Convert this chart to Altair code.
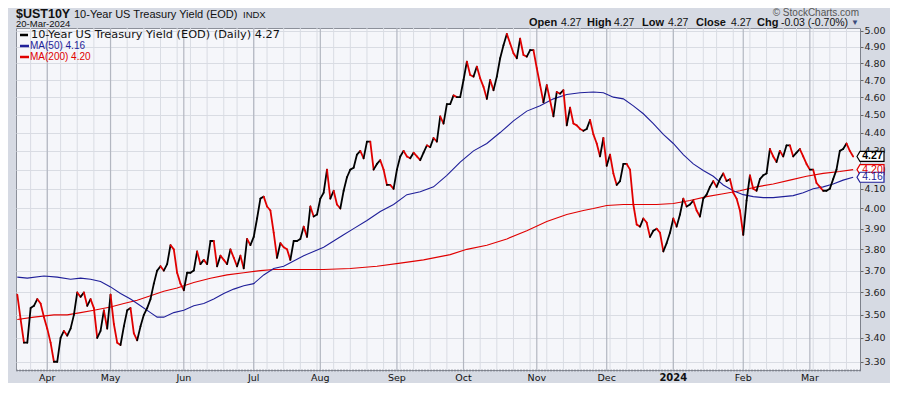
import altair as alt
import pandas as pd

# ---------------- data ----------------
first_day = "2023-03-21"
last_day = "2024-03-20"
holidays = ["2023-04-07", "2023-05-29", "2023-06-19", "2023-07-04", "2023-09-04",
            "2023-11-23", "2023-12-25", "2024-01-01", "2024-01-15", "2024-02-19"]

close = [
    3.59, 3.48, 3.38, 3.38, 3.53, 3.54, 3.57, 3.55, 3.49, 3.44,
    3.38, 3.30, 3.30, 3.40, 3.43, 3.41, 3.44, 3.50, 3.60, 3.58,
    3.60, 3.54, 3.57, 3.53, 3.40, 3.43, 3.52, 3.44, 3.59, 3.46,
    3.38, 3.37, 3.45, 3.52, 3.53, 3.42, 3.39, 3.45, 3.50, 3.53,
    3.57, 3.64, 3.70, 3.72, 3.70, 3.73, 3.82, 3.80, 3.69, 3.64,
    3.61, 3.69, 3.69, 3.70, 3.79, 3.73, 3.75, 3.73, 3.84, 3.84,
    3.72, 3.77, 3.75, 3.73, 3.80, 3.76, 3.72, 3.77, 3.71, 3.85,
    3.82, 3.86, 3.95, 4.05, 4.06, 4.01, 3.99, 3.88, 3.76, 3.83,
    3.81, 3.80, 3.75, 3.84, 3.84, 3.85, 3.91, 3.86, 4.01, 3.96,
    3.97, 4.05, 4.08, 4.20, 4.05, 4.09, 4.02, 4.00, 4.09, 4.16,
    4.20, 4.21, 4.28, 4.30, 4.26, 4.35, 4.35, 4.20, 4.23, 4.25,
    4.20, 4.12, 4.12, 4.10, 4.20, 4.27, 4.30, 4.27, 4.26, 4.29,
    4.27, 4.25, 4.29, 4.33, 4.32, 4.37, 4.35, 4.49, 4.45, 4.56,
    4.56, 4.61, 4.60, 4.60, 4.70, 4.81, 4.73, 4.72, 4.78, 4.71,
    4.66, 4.59, 4.70, 4.64, 4.72, 4.83, 4.91, 4.98, 4.92, 4.86,
    4.83, 4.95, 4.85, 4.84, 4.88, 4.88, 4.77, 4.67, 4.57, 4.67,
    4.58, 4.49, 4.63, 4.62, 4.64, 4.44, 4.54, 4.45, 4.44, 4.42,
    4.41, 4.42, 4.47, 4.39, 4.34, 4.27, 4.37, 4.22, 4.28, 4.18,
    4.12, 4.14, 4.23, 4.23, 4.20, 4.02, 3.92, 3.91, 3.95, 3.93,
    3.86, 3.89, 3.90, 3.88, 3.79, 3.83, 3.88, 3.95, 3.91, 3.97,
    4.05, 4.01, 4.02, 4.04, 3.99, 3.96, 4.05, 4.07, 4.11, 4.14,
    4.11, 4.15, 4.18, 4.14, 4.15, 4.08, 4.05, 3.99, 3.87, 4.04,
    4.17, 4.10, 4.09, 4.15, 4.17, 4.18, 4.31, 4.27, 4.24, 4.30,
    4.27, 4.33, 4.33, 4.27, 4.29, 4.31, 4.27, 4.23, 4.20, 4.20,
    4.13, 4.11, 4.09, 4.09, 4.10, 4.15, 4.20, 4.30, 4.31, 4.34,
    4.30, 4.27,
]

ma50_day = [0, 3, 8, 12, 16, 19, 22, 25, 28, 31, 34, 37, 40, 42, 44, 47, 50, 53, 56, 59,
            62, 65, 68, 71, 74, 77, 80, 83, 86, 89, 92, 95, 98, 101, 105, 109, 113, 117,
            121, 125, 129, 133, 137, 141, 145, 149, 153, 157, 161, 165, 169, 173, 176,
            179, 182, 185, 188, 191, 194, 197, 200, 203, 206, 209, 212, 215, 218, 221,
            224, 227, 230, 233, 236, 239, 242, 245, 248, 251]
ma50_val = [3.67, 3.665, 3.675, 3.67, 3.66, 3.665, 3.66, 3.65, 3.625, 3.595, 3.57, 3.54,
            3.51, 3.49, 3.49, 3.51, 3.52, 3.54, 3.55, 3.57, 3.595, 3.615, 3.63, 3.64, 3.68,
            3.71, 3.72, 3.745, 3.77, 3.79, 3.81, 3.84, 3.87, 3.90, 3.94, 3.985, 4.02, 4.07,
            4.085, 4.11, 4.17, 4.24, 4.30, 4.34, 4.40, 4.465, 4.52, 4.55, 4.59, 4.615, 4.625,
            4.63, 4.625, 4.60, 4.59, 4.55, 4.505, 4.45, 4.39, 4.34, 4.28, 4.23, 4.195, 4.165,
            4.12, 4.09, 4.07, 4.06, 4.055, 4.055, 4.06, 4.065, 4.08, 4.10, 4.11, 4.125,
            4.145, 4.16]

ma200_day = [0, 5, 11, 15, 19, 23, 28, 32, 36, 40, 44, 48, 53, 58, 63, 68, 73, 77, 82, 86,
             92, 100, 108, 115, 122, 130, 135, 141, 147, 153, 159, 165, 170, 173, 177, 182,
             187, 192, 197, 202, 207, 212, 217, 222, 227, 232, 237, 242, 247, 251]
ma200_val = [3.48, 3.49, 3.50, 3.50, 3.51, 3.52, 3.535, 3.55, 3.565, 3.585, 3.605, 3.62,
             3.645, 3.665, 3.68, 3.69, 3.70, 3.705, 3.705, 3.705, 3.705, 3.71, 3.72, 3.735,
             3.75, 3.775, 3.80, 3.82, 3.85, 3.89, 3.935, 3.97, 3.99, 4.00, 4.015, 4.02, 4.02,
             4.02, 4.025, 4.04, 4.06, 4.075, 4.09, 4.11, 4.125, 4.145, 4.165, 4.18, 4.19, 4.20]

y_ticks = [3.30, 3.40, 3.50, 3.60, 3.70, 3.80, 3.90, 4.00, 4.10, 4.20, 4.30, 4.40,
           4.50, 4.60, 4.70, 4.80, 4.90, 5.00]

tag_values = [4.27, 4.20, 4.16]
tag_labels = ["4.27", "4.20", "4.16"]
tag_colors = ["#000000", "#E00000", "#1F1F99"]

# ---------------- tables built from the arrays ----------------
days = [d for d in pd.bdate_range(first_day, last_day) if d.strftime("%Y-%m-%d") not in holidays]
n = len(days)

seg = pd.DataFrame({
    "x0": list(range(0, n - 1)),
    "x1": list(range(1, n)),
    "y0": close[:-1],
    "y1": close[1:],
})
seg["dir"] = ["up" if b >= a else "down" for a, b in zip(close[:-1], close[1:])]

month_idx, month_lab, week_idx = [], [], []
for i in range(1, n):
    if days[i].month != days[i - 1].month:
        month_idx.append(i)
        month_lab.append(str(days[i].year) if days[i].month == 1 else days[i].strftime("%b"))
    if days[i].isocalendar()[1] != days[i - 1].isocalendar()[1]:
        week_idx.append(i)
months = pd.DataFrame({"i": month_idx, "lab": month_lab})
weeks = pd.DataFrame({"i": week_idx})

ma50 = pd.DataFrame({"i": ma50_day, "v": ma50_val})
ma200 = pd.DataFrame({"i": ma200_day, "v": ma200_val})
tags = pd.DataFrame({"v": tag_values, "lab": tag_labels, "col": tag_colors})
one = pd.DataFrame({"a": [0]})

W, H = 844, 342
xs = alt.Scale(domain=[-0.39, 253.06], nice=False, zero=False)
ys = alt.Scale(type="log", domain=[3.266, 5.017], nice=False, zero=False)
x_axis = alt.Axis(title=None, labels=False, ticks=False, grid=False, domain=True,
                  domainColor="#6E727C", domainDash=[1, 2], domainWidth=2)
y_axis = alt.Axis(title=None, orient="right", values=y_ticks, format=".2f", grid=True,
                  gridColor="#D9DCE3", gridWidth=1, tickSize=3, tickColor="#666",
                  domain=True, domainColor="#6E727C", domainDash=[1, 1],
                  labelFont="DejaVu Sans", labelFontSize=9.5, labelColor="#222",
                  labelPadding=1)


def X(f):
    return alt.X(f, type="quantitative", scale=xs, axis=x_axis)


def Y(f):
    return alt.Y(f, type="quantitative", scale=ys, axis=y_axis)


minor_grid = alt.Chart(weeks).mark_rule(color="#D9DCE3", strokeWidth=1).encode(x=X("i"))
major_grid = alt.Chart(months).mark_rule(color="#B3B7C1", strokeWidth=1.2).encode(x=X("i"))

ma200_line = alt.Chart(ma200).mark_line(color="#E00000", strokeWidth=1.1).encode(x=X("i"), y=Y("v"))
ma50_line = alt.Chart(ma50).mark_line(color="#1F1F99", strokeWidth=1.1).encode(x=X("i"), y=Y("v"))

price = alt.Chart(seg).mark_rule(strokeWidth=1.8, strokeCap="round").encode(
    x=X("x0"), x2="x1", y=Y("y0"), y2="y1",
    color=alt.Color("dir:N", scale=alt.Scale(domain=["up", "down"], range=["#000000", "#E00000"]),
                    legend=None),
)

tag_path = "M -1 0 L -0.78 -0.37 L 1 -0.37 L 1 0.37 L -0.78 0.37 Z"
tag_shape = alt.Chart(tags).mark_point(shape=tag_path, size=729, filled=True, fill="white",
                                       strokeWidth=1.2, opacity=1).encode(
    x=alt.value(854.5), y=Y("v"), stroke=alt.Stroke("col:N", scale=None))
tag_text_b = alt.Chart(tags.iloc[:1]).mark_text(font="Liberation Sans", fontSize=10.5,
                                                 fontWeight="bold", align="center",
                                                 baseline="middle").encode(
    x=alt.value(856.5), y=Y("v"), text="lab:N", color=alt.Color("col:N", scale=None))
tag_text = alt.Chart(tags.iloc[1:]).mark_text(font="Liberation Sans", fontSize=10.5,
                                               align="center", baseline="middle").encode(
    x=alt.value(856.5), y=Y("v"), text="lab:N", color=alt.Color("col:N", scale=None))

month_text = alt.Chart(months[months.lab.str.len() == 3]).mark_text(
    font="DejaVu Sans", fontSize=9.5, color="#111", baseline="alphabetic").encode(
    x=X("i"), y=alt.value(H + 11), text="lab:N")
year_text = alt.Chart(months[months.lab.str.len() == 4]).mark_text(
    font="DejaVu Sans", fontSize=10, fontWeight="bold", color="#111", baseline="alphabetic").encode(
    x=X("i"), y=alt.value(H + 11), text="lab:N")


def txt(s, x, y, size, weight="normal", color="#111", align="left",
        font="Liberation Sans", baseline="alphabetic"):
    return alt.Chart(one).mark_text(text=s, align=align, baseline=baseline, font=font,
                                    fontSize=size, fontWeight=weight, color=color).encode(
        x=alt.value(x), y=alt.value(y))


def mark(x1, x2, y, color):
    return alt.Chart(one).mark_rule(color=color, strokeWidth=2.5).encode(
        x=alt.value(x1), x2=alt.value(x2), y=alt.value(y))


header = [
    txt("$UST10Y", 0, -10.5, 12.5, "bold"),
    txt("10-Year US Treasury Yield (EOD)", 58, -10.5, 11),
    txt("INDX", 227, -10.5, 9.5),
    txt("20-Mar-2024", 0, -1.2, 9.5),
    txt("\u00a9 StockCharts.com", 843, -12, 10, color="#555", align="right"),
    txt("Open", 513, -2.5, 11, "bold"), txt("4.27", 545, -2.5, 10.5),
    txt("High", 571, -2.5, 11, "bold"), txt("4.27", 598, -2.5, 10.5),
    txt("Low", 626, -2.5, 11, "bold"), txt("4.27", 652, -2.5, 10.5),
    txt("Close", 680, -2.5, 11, "bold"), txt("4.27", 715, -2.5, 10.5),
    txt("Chg", 741, -2.5, 11, "bold"), txt("-0.03 (-0.70%)", 765, -2.5, 10.5),
    txt("\u25bc", 839, -3, 8, color="#3B4B7B", align="center"),
]
legend = [
    mark(4, 12, 7, "#000000"),
    txt("10-Year US Treasury Yield (EOD) (Daily) 4.27", 15, 7, 11.3,
        font="DejaVu Sans", baseline="middle"),
    mark(4, 13, 18, "#1F1F99"),
    txt("MA(50) 4.16", 14, 18, 10, color="#1F1F99", baseline="middle"),
    mark(4, 13, 29, "#E00000"),
    txt("MA(200) 4.20", 14, 29, 10, color="#E00000", baseline="middle"),
]

chart = alt.layer(
    minor_grid, major_grid, ma200_line, ma50_line, price,
    tag_shape, tag_text_b, tag_text, month_text, year_text,
    *header, *legend,
).properties(
    width=W, height=H,
    padding={"left": 8, "top": 20, "right": 30, "bottom": 13},
    autosize=alt.AutoSizeParams(type="none"),
    background="#D6DAE3",
).configure_view(fill="#F5F6FA", stroke="#8C909A", strokeWidth=1)

chart.save("out.html", embed_options={"renderer": "svg", "actions": False})
